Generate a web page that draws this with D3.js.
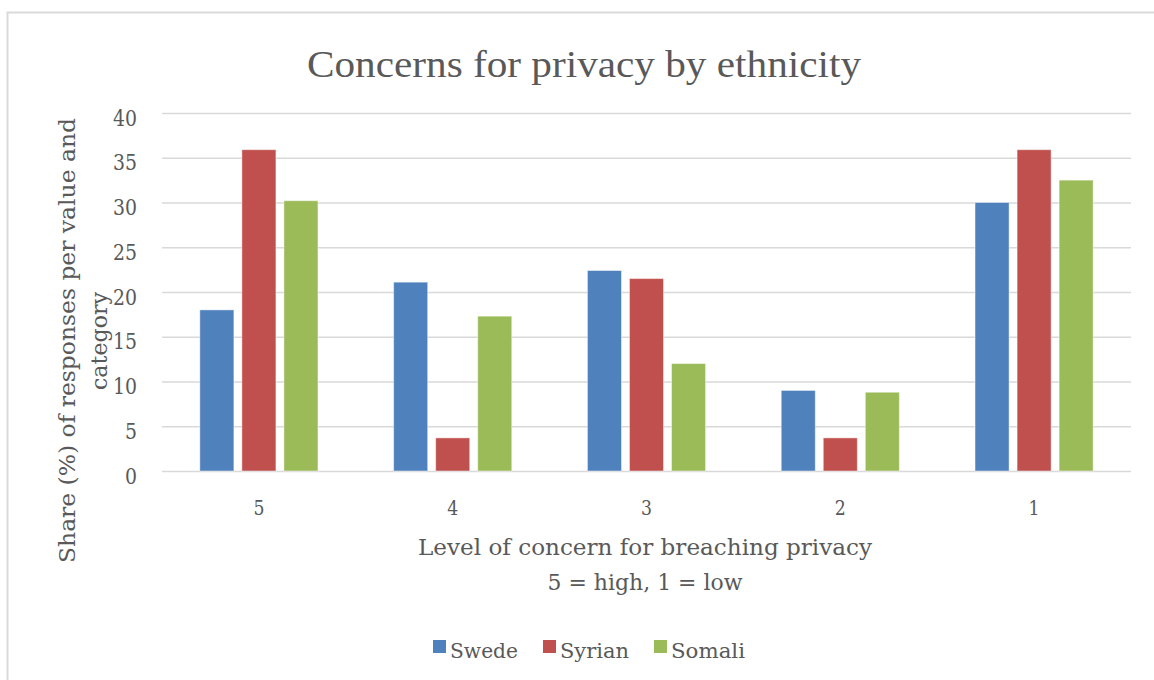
<!DOCTYPE html>
<html>
<head>
<meta charset="utf-8">
<script src="https://cdn.jsdelivr.net/npm/d3@7"></script>
<style>
  html, body { margin: 0; padding: 0; background: #ffffff; }
  svg { display: block; }
  text { fill: #595959; }
</style>
</head>
<body>
<svg id="chart" width="1154" height="680"></svg>
<script>
// Level of concern (5 = high, 1 = low)
const categories = ["5", "4", "3", "2", "1"];
const seriesNames = ["Swede", "Syrian", "Somali"];
// Share (%) of responses per level, one array per group
const swede  = [18.0, 21.1, 22.4, 9.0, 30.0];
const syrian = [35.9, 3.7, 21.5, 3.7, 35.9];
const somali = [30.2, 17.3, 12.0, 8.8, 32.5];
const seriesColors = ["#4f81bd", "#c0504d", "#9bbb59"];
const yTicks = [0, 5, 10, 15, 20, 25, 30, 35, 40];

const seriesValues = [swede, syrian, somali];
const rows = categories.map((c, i) => ({
  category: c,
  values: seriesNames.map((s, j) => ({ series: s, value: seriesValues[j][i], color: seriesColors[j] }))
}));

const svg = d3.select("#chart");
const serif = "'DejaVu Serif', serif";
const titleFont = "'Liberation Serif', 'Times New Roman', serif";

// Chart frame
svg.append("rect")
  .attr("x", 7.5).attr("y", 12.5)
  .attr("width", 1180).attr("height", 700)
  .attr("fill", "#ffffff")
  .attr("stroke", "#d9d9d9").attr("stroke-width", 2);

const plot = { left: 162, right: 1131, top: 113, bottom: 471 };

const x0 = d3.scaleBand().domain(categories).range([plot.left, plot.right]).padding(0);
const x1 = d3.scaleBand().domain(seriesNames).range([0, x0.bandwidth()])
  .paddingInner(0.19).paddingOuter(0.9);
const y = d3.scaleLinear().domain([0, 40]).range([plot.bottom, plot.top]);

// Y axis with gridlines
const yAxis = svg.append("g")
  .attr("transform", `translate(${plot.left},0)`)
  .call(d3.axisLeft(y).tickValues(yTicks).tickSize(-(plot.right - plot.left)).tickPadding(25));
yAxis.select(".domain").remove();
yAxis.selectAll(".tick line").attr("stroke", "#d9d9d9").attr("stroke-width", 1.6);
yAxis.selectAll(".tick text")
  .attr("font-family", serif).attr("font-size", 22)
  .attr("fill", "#595959")
  .attr("dy", "0.55em")
  .attr("textLength", d => String(d).length * 12)
  .attr("lengthAdjust", "spacingAndGlyphs");

// Bars
const groups = svg.append("g").selectAll("g")
  .data(rows).join("g")
  .attr("transform", d => `translate(${x0(d.category)},0)`);
groups.selectAll("rect")
  .data(d => d.values).join("rect")
  .attr("x", d => x1(d.series))
  .attr("y", d => y(d.value))
  .attr("width", x1.bandwidth())
  .attr("height", d => y(0) - y(d.value))
  .attr("fill", d => d.color)
  .attr("stroke", "#ffffff").attr("stroke-opacity", 0.45).attr("stroke-width", 1);

// X axis labels
const xAxis = svg.append("g")
  .attr("transform", `translate(0,${plot.bottom})`)
  .call(d3.axisBottom(x0).tickSize(0));
xAxis.select(".domain").remove();
xAxis.selectAll(".tick text")
  .attr("font-family", serif).attr("font-size", 21)
  .attr("fill", "#595959")
  .attr("y", 44).attr("dy", 0)
  .attr("textLength", 11)
  .attr("lengthAdjust", "spacingAndGlyphs");

// Title
svg.append("text")
  .attr("x", 584).attr("y", 77)
  .attr("text-anchor", "middle")
  .attr("font-family", titleFont).attr("font-size", 37)
  .attr("textLength", 554).attr("lengthAdjust", "spacingAndGlyphs")
  .text("Concerns for privacy by ethnicity");

// X axis title
const xTitle = svg.append("g").attr("font-family", serif).attr("text-anchor", "middle");
xTitle.append("text")
  .attr("x", 645).attr("y", 555).attr("font-size", 23)
  .attr("textLength", 454).attr("lengthAdjust", "spacingAndGlyphs")
  .text("Level of concern for breaching privacy");
xTitle.append("text")
  .attr("x", 645).attr("y", 590).attr("font-size", 23)
  .attr("textLength", 195).attr("lengthAdjust", "spacingAndGlyphs")
  .text("5 = high, 1 = low");

// Y axis title (two lines, rotated)
const yTitle = svg.append("g").attr("font-family", serif).attr("text-anchor", "middle").attr("font-size", 22);
yTitle.append("text")
  .attr("transform", "translate(75,340.5) rotate(-90)")
  .attr("textLength", 445).attr("lengthAdjust", "spacingAndGlyphs")
  .text("Share (%) of responses per value and");
yTitle.append("text")
  .attr("transform", "translate(107,341) rotate(-90)")
  .attr("textLength", 98).attr("lengthAdjust", "spacingAndGlyphs")
  .text("category");

// Legend
const legendTextLen = [68, 69, 74];
const sw = 13, gapIn = 4, gapOut = 25;
const total = d3.sum(legendTextLen) + seriesNames.length * (sw + gapIn) + (seriesNames.length - 1) * gapOut;
let lx = 589 - total / 2;
const legend = svg.append("g").attr("font-family", serif).attr("font-size", 21);
seriesNames.forEach((name, i) => {
  legend.append("rect")
    .attr("x", lx).attr("y", 640).attr("width", sw).attr("height", sw)
    .attr("fill", seriesColors[i]);
  legend.append("text")
    .attr("x", lx + sw + gapIn).attr("y", 658)
    .attr("textLength", legendTextLen[i]).attr("lengthAdjust", "spacingAndGlyphs")
    .text(name);
  lx += sw + gapIn + legendTextLen[i] + gapOut;
});
</script>
</body>
</html>
